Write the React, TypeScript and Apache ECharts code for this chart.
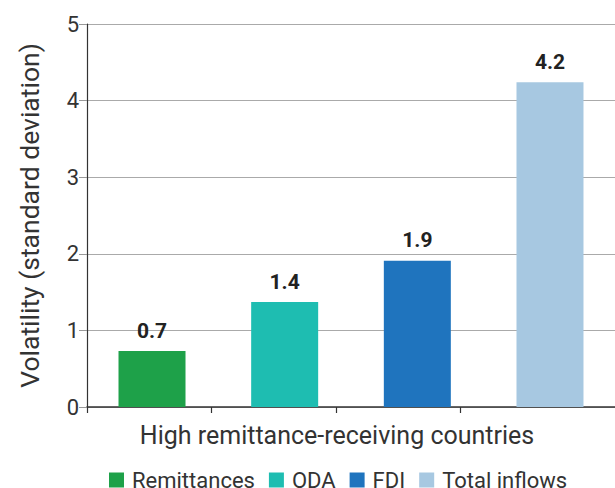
import React, { useEffect, useRef } from "react";
import * as echarts from "echarts";

const category = ["High remittance-receiving countries"];
const seriesNames = ["Remittances", "ODA", "FDI", "Total inflows"];
const seriesValues = [0.73, 1.37, 1.91, 4.24];
const seriesColors = ["#1ea149", "#1ebdb1", "#1f74be", "#a7c8e1"];
const yTicks = [0, 1, 2, 3, 4, 5];

export default function App() {
  const ref = useRef<HTMLDivElement>(null);
  useEffect(() => {
    if (!ref.current) return;
    const chart = echarts.init(ref.current, null, { renderer: "svg" });
    const font = "Roboto, 'Noto Sans', sans-serif";
    chart.setOption({
      animation: false,
      textStyle: { fontFamily: font },
      grid: { left: 87, top: 24, right: 0, bottom: 81, containLabel: false },
      legend: {
        data: seriesNames,
        top: 464,
        left: 104,
        itemWidth: 15,
        itemHeight: 15,
        itemGap: 14,
        icon: "rect",
        textStyle: { fontSize: 22, color: "#333", fontFamily: font, padding: [0, 0, 0, 3] },
      },
      xAxis: [
        {
          type: "category",
          data: category,
          axisLine: { show: true, lineStyle: { color: "#333", width: 1.5 } },
          axisTick: { show: false },
          axisLabel: {
            fontSize: 25,
            color: "#333",
            margin: 16,
            padding: [0, 28, 0, 0],
            fontFamily: font,
          },
        },
        {
          type: "value",
          position: "bottom",
          min: 0,
          max: 528,
          axisLine: { show: false },
          axisLabel: { show: false },
          splitLine: { show: false },
          axisTick: {
            show: true,
            length: 6,
            customValues: [0, 124, 249, 373],
            lineStyle: { color: "#333", width: 1.2 },
          },
        },
      ],
      yAxis: {
        type: "value",
        min: yTicks[0],
        max: yTicks[yTicks.length - 1],
        interval: 1,
        name: "Volatility (standard deviation)",
        nameLocation: "middle",
        nameGap: 44,
        nameTextStyle: { fontSize: 26.5, color: "#333", fontFamily: font },
        axisLine: { show: true, lineStyle: { color: "#333", width: 1.2 } },
        axisTick: { show: true, length: 8, lineStyle: { color: "#999" } },
        axisLabel: { fontSize: 22, color: "#333", margin: 8, fontFamily: font },
        splitLine: { show: true, lineStyle: { color: "#aaa", width: 1 } },
      },
      series: seriesNames.map((name, i) => ({
        name,
        type: "bar",
        xAxisIndex: 0,
        barWidth: 67,
        barGap: "98%",
        data: [seriesValues[i]],
        itemStyle: { color: seriesColors[i] },
        label: {
          show: true,
          position: "top",
          distance: 10,
          fontSize: 21,
          fontWeight: "bold",
          color: "#222",
          fontFamily: font,
          formatter: (p: any) => Number(p.value).toFixed(1),
        },
      })),
    });
    return () => chart.dispose();
  }, []);
  return <div ref={ref} style={{ width: 615, height: 488, position: "absolute", left: 0, top: 0 }} />;
}
